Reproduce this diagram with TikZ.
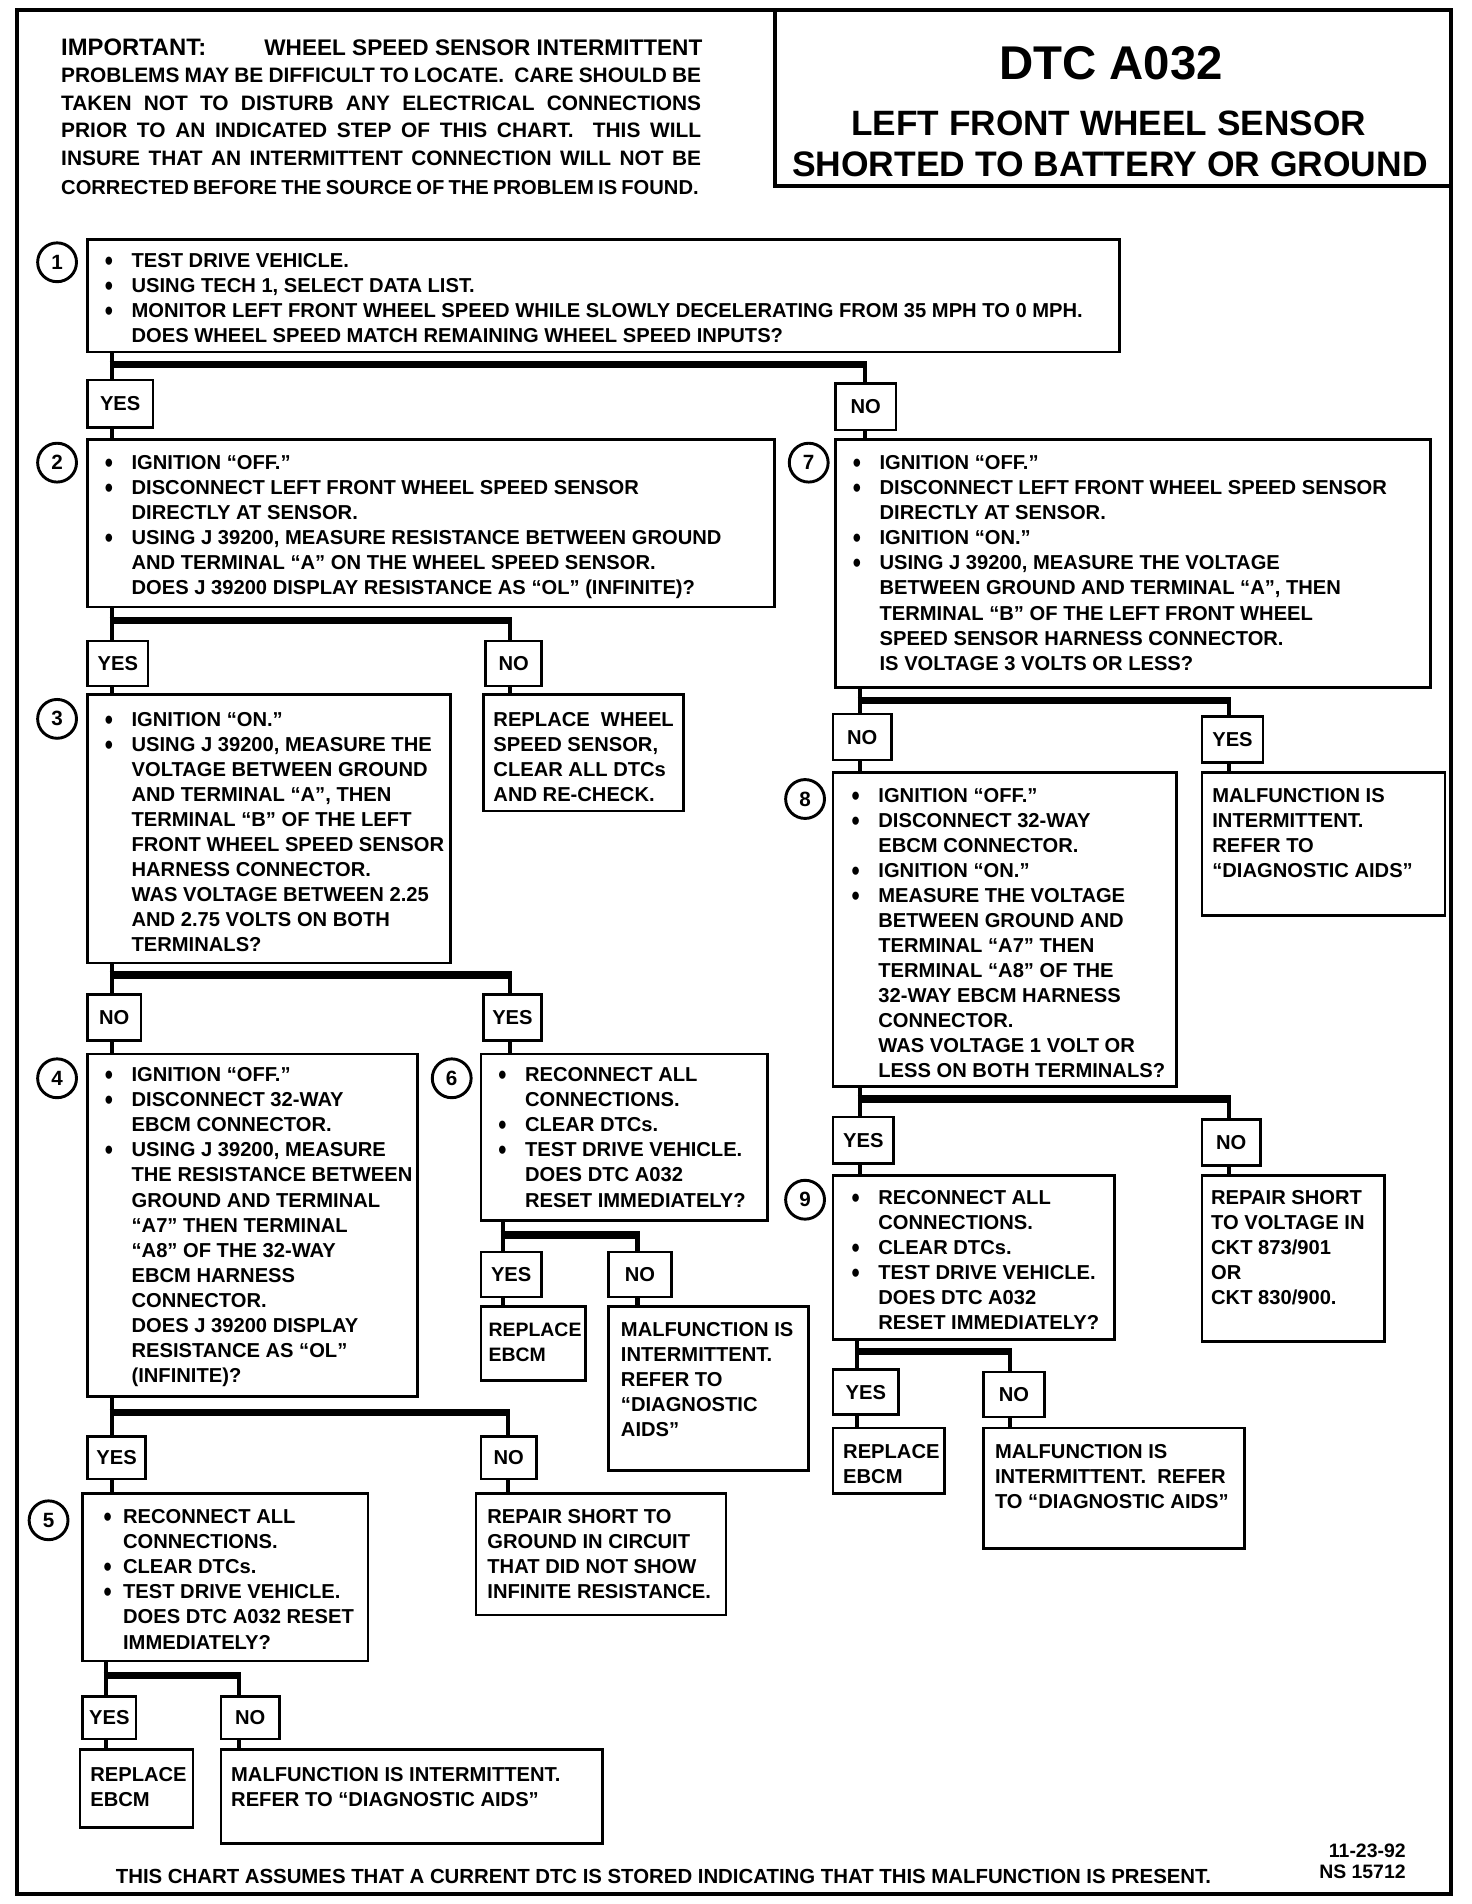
\documentclass[tikz,border=0pt]{standalone}
\usepackage{fontspec}
\setmainfont{Liberation Sans}
\usetikzlibrary{fit}
\newcommand\mybody{\fontsize{8.3}{10.3}\selectfont\bfseries}
\newcommand\mylbl{\fontsize{8.3}{10.3}\selectfont\bfseries}
\newcommand\mynum{\fontsize{8.5}{10}\selectfont\bfseries}
\newcommand\mydot{\smash{\raisebox{-1.2pt}{\scalebox{1.15}[1.4]{\textbullet}}}}
\newcommand\mybul{\makebox[11pt][l]{\mydot}}
\newcommand\myind{\hspace*{11pt}}
\newcommand\mybulc{\makebox[8pt][l]{\mydot}}
\newcommand\myindc{\hspace*{8pt}}
\tikzset{
 box/.style={draw, line width=1.1pt, inner sep=0pt, rectangle},
 lbltxt/.style={inner sep=0pt, font=\mylbl},
 txt/.style={anchor=north west, inner sep=0pt, align=left, font=\mybody},
 num/.style={draw, circle, line width=1.2pt, minimum size=16pt, inner sep=0pt, font=\mynum},
 conn/.style={line width=1.7pt},
 bar/.style={line width=3pt},
 imp/.style={anchor=base west, inner sep=0pt, font=\fontsize{8.6}{11}\selectfont\bfseries},
}
% label box: name, fit corners, text
\newcommand\lblnode[3]{\node[box, fit={#2}] (#1) {}; \node[lbltxt] (#1t) at (#1.center) {#3};}
\begin{document}
\begin{tikzpicture}[x=0.5pt,y=-0.5pt]
\fill[white] (0,0) rectangle (1212,1568);
\useasboundingbox (0,0) rectangle (1212,1568);
% outer frame and title
\node[box, line width=1.5pt, fit={(14,8) (1195,1560)}] (frame) {};
\node[box, line width=1.5pt, fit={(638,8) (1195,153)}] (title) {};
\node[font=\fontsize{19.5}{22}\selectfont\bfseries, inner sep=0pt] (t1) at (915,52) {DTC A032};
\node[font=\fontsize{14.5}{16}\selectfont\bfseries, inner sep=0pt] (t2) at (913,102) {LEFT FRONT WHEEL SENSOR};
\node[font=\fontsize{14.6}{16}\selectfont\bfseries, inner sep=0pt] (t3) at (914,135) {SHORTED TO BATTERY OR GROUND};
% important note
\node[imp] (imp1) at (50,46) {\makebox[264pt][s]{{\fontsize{9.8}{12}\selectfont IMPORTANT:}\hspace{10pt plus 1fil}{\fontsize{9.3}{11}\selectfont WHEEL SPEED SENSOR INTERMITTENT}}};
\node[imp] (imp2) at (50,68) {\makebox[263.5pt][s]{PROBLEMS MAY BE DIFFICULT TO LOCATE.\ \ CARE SHOULD BE}};
\node[imp] (imp3) at (50,91) {\makebox[263.5pt][s]{TAKEN NOT TO DISTURB ANY ELECTRICAL CONNECTIONS}};
\node[imp] (imp4) at (50,113) {\makebox[263.5pt][s]{PRIOR TO AN INDICATED STEP OF THIS CHART.\ \ THIS WILL}};
\node[imp] (imp5) at (50,136) {\makebox[263.5pt][s]{INSURE THAT AN INTERMITTENT CONNECTION WILL NOT BE}};
\node[imp, font=\fontsize{8.3}{11}\selectfont\bfseries] (imp6) at (50,160) {\makebox[262.5pt][s]{CORRECTED BEFORE THE SOURCE OF THE PROBLEM IS FOUND.}};

% ---------- boxes ----------
\node[box, fit={(72,197) (922,290)}] (b1) {};
\lblnode{y1}{(72,313) (126,352)}{YES}
\lblnode{n1}{(688,316) (738,354)}{NO}
\node[box, fit={(72,362) (638,500)}] (b2) {};
\node[box, fit={(688,362) (1178,566)}] (b7) {};
\lblnode{y2}{(72,528) (122,565)}{YES}
\lblnode{n2}{(400,528) (446,565)}{NO}
\node[box, fit={(72,572) (371,793)}] (b3) {};
\node[box, fit={(398,572) (563,668)}] (r2) {};
\lblnode{n3}{(72,819) (116,857)}{NO}
\lblnode{y3}{(398,819) (446,857)}{YES}
\node[box, fit={(72,868) (344,1150)}] (b4) {};
\node[box, fit={(396,868) (632,1005)}] (b6) {};
\lblnode{y6}{(396,1031) (446,1068)}{YES}
\lblnode{n6}{(501,1031) (553,1068)}{NO}
\node[box, fit={(396,1076) (482,1137)}] (r6y) {};
\node[box, fit={(501,1076) (666,1211)}] (r6n) {};
\lblnode{y4}{(72,1183) (120,1218)}{YES}
\lblnode{n4}{(396,1183) (442,1218)}{NO}
\node[box, fit={(68,1230) (303,1368)}] (b5) {};
\node[box, fit={(392,1230) (598,1330)}] (r4n) {};
\lblnode{y5}{(68,1397) (112,1432)}{YES}
\lblnode{n5}{(182,1397) (230,1432)}{NO}
\node[box, fit={(66,1441) (159,1505)}] (r5y) {};
\node[box, fit={(182,1441) (496,1518)}] (r5n) {};
\lblnode{n7}{(686,588) (734,626)}{NO}
\lblnode{y7}{(990,590) (1040,628)}{YES}
\node[box, fit={(686,636) (969,895)}] (b8) {};
\node[box, fit={(990,636) (1190,754)}] (r7y) {};
\lblnode{y8}{(686,920) (736,958)}{YES}
\lblnode{n8}{(990,922) (1038,960)}{NO}
\node[box, fit={(686,968) (918,1103)}] (b9) {};
\node[box, fit={(990,968) (1140,1105)}] (r8n) {};
\lblnode{y9}{(686,1128) (740,1165)}{YES}
\lblnode{n9}{(810,1130) (860,1167)}{NO}
\node[box, fit={(686,1176) (778,1230)}] (r9y) {};
\node[box, fit={(810,1176) (1025,1275)}] (r9n) {};

% ---------- step numbers ----------
\node[num] (c1) at (47,216) {1};
\node[num] (c2) at (47,381) {2};
\node[num] (c7) at (666,381) {7};
\node[num] (c3) at (47,592) {3};
\node[num] (c4) at (47,888) {4};
\node[num] (c6) at (372,888) {6};
\node[num] (c5) at (40,1252) {5};
\node[num] (c8) at (663,658) {8};
\node[num] (c9) at (663,988) {9};

% ---------- texts ----------
\node[txt] (x1) at (86,208) {\mybul TEST DRIVE VEHICLE.\\
\mybul USING TECH 1, SELECT DATA LIST.\\
\mybul MONITOR LEFT FRONT WHEEL SPEED WHILE SLOWLY DECELERATING FROM 35 MPH TO 0 MPH.\\
\myind DOES WHEEL SPEED MATCH REMAINING WHEEL SPEED INPUTS?};
\node[txt] (x2) at (86,375) {\mybul IGNITION “OFF.”\\
\mybul DISCONNECT LEFT FRONT WHEEL SPEED SENSOR\\
\myind DIRECTLY AT SENSOR.\\
\mybul USING J 39200, MEASURE RESISTANCE BETWEEN GROUND\\
\myind AND TERMINAL “A” ON THE WHEEL SPEED SENSOR.\\
\myind DOES J 39200 DISPLAY RESISTANCE AS “OL” (INFINITE)?};
\node[txt] (x7) at (702,375) {\mybul IGNITION “OFF.”\\
\mybul DISCONNECT LEFT FRONT WHEEL SPEED SENSOR\\
\myind DIRECTLY AT SENSOR.\\
\mybul IGNITION “ON.”\\
\mybul USING J 39200, MEASURE THE VOLTAGE\\
\myind BETWEEN GROUND AND TERMINAL “A”, THEN\\
\myind TERMINAL “B” OF THE LEFT FRONT WHEEL\\
\myind SPEED SENSOR HARNESS CONNECTOR.\\
\myind IS VOLTAGE 3 VOLTS OR LESS?};
\node[txt] (x3) at (86,586) {\mybul IGNITION “ON.”\\
\mybul USING J 39200, MEASURE THE\\
\myind VOLTAGE BETWEEN GROUND\\
\myind AND TERMINAL “A”, THEN\\
\myind TERMINAL “B” OF THE LEFT\\
\myind FRONT WHEEL SPEED SENSOR\\
\myind HARNESS CONNECTOR.\\
\myind WAS VOLTAGE BETWEEN 2.25\\
\myind AND 2.75 VOLTS ON BOTH\\
\myind TERMINALS?};
\node[txt] (xr2) at (406,586) {REPLACE\ \ WHEEL\\ SPEED SENSOR,\\ CLEAR ALL DTCs\\ AND RE-CHECK.};
\node[txt] (x4) at (86,879) {\mybul IGNITION “OFF.”\\
\mybul DISCONNECT 32-WAY\\
\myind EBCM CONNECTOR.\\
\mybul USING J 39200, MEASURE\\
\myind THE RESISTANCE BETWEEN\\
\myind GROUND AND TERMINAL\\
\myind “A7” THEN TERMINAL\\
\myind “A8” OF THE 32-WAY\\
\myind EBCM HARNESS\\
\myind CONNECTOR.\\
\myind DOES J 39200 DISPLAY\\
\myind RESISTANCE AS “OL”\\
\myind (INFINITE)?};
\node[txt] (x6) at (410,879) {\mybul RECONNECT ALL\\
\myind CONNECTIONS.\\
\mybul CLEAR DTCs.\\
\mybul TEST DRIVE VEHICLE.\\
\myind DOES DTC A032\\
\myind RESET IMMEDIATELY?};
\node[txt, font=\fontsize{8}{10.3}\selectfont\bfseries] (xr6y) at (402,1089) {REPLACE\\ EBCM};
\node[txt] (xr6n) at (511,1089) {MALFUNCTION IS\\ INTERMITTENT.\\ REFER TO\\ “DIAGNOSTIC\\ AIDS”};
\node[txt] (x5) at (85,1243) {\mybulc RECONNECT ALL\\
\myindc CONNECTIONS.\\
\mybulc CLEAR DTCs.\\
\mybulc TEST DRIVE VEHICLE.\\
\myindc DOES DTC A032 RESET\\
\myindc IMMEDIATELY?};
\node[txt] (xr4n) at (401,1243) {REPAIR SHORT TO\\ GROUND IN CIRCUIT\\ THAT DID NOT SHOW\\ INFINITE RESISTANCE.};
\node[txt] (xr5y) at (74,1455) {REPLACE\\ EBCM};
\node[txt] (xr5n) at (190,1455) {MALFUNCTION IS INTERMITTENT.\\ REFER TO “DIAGNOSTIC AIDS”};
\node[txt] (xr7y) at (998,649) {MALFUNCTION IS\\ INTERMITTENT.\\ REFER TO\\ “DIAGNOSTIC AIDS”};
\node[txt] (x8) at (701,649) {\mybul IGNITION “OFF.”\\
\mybul DISCONNECT 32-WAY\\
\myind EBCM CONNECTOR.\\
\mybul IGNITION “ON.”\\
\mybul MEASURE THE VOLTAGE\\
\myind BETWEEN GROUND AND\\
\myind TERMINAL “A7” THEN\\
\myind TERMINAL “A8” OF THE\\
\myind 32-WAY EBCM HARNESS\\
\myind CONNECTOR.\\
\myind WAS VOLTAGE 1 VOLT OR\\
\myind LESS ON BOTH TERMINALS?};
\node[txt] (x9) at (701,980) {\mybul RECONNECT ALL\\
\myind CONNECTIONS.\\
\mybul CLEAR DTCs.\\
\mybul TEST DRIVE VEHICLE.\\
\myind DOES DTC A032\\
\myind RESET IMMEDIATELY?};
\node[txt] (xr8n) at (997,980) {REPAIR SHORT\\ TO VOLTAGE IN\\ CKT 873/901\\ OR\\ CKT 830/900.};
\node[txt] (xr9y) at (694,1189) {REPLACE\\ EBCM};
\node[txt] (xr9n) at (819,1189) {MALFUNCTION IS\\ INTERMITTENT.\ \ REFER\\ TO “DIAGNOSTIC AIDS”};

% footer
\node[anchor=base west, inner sep=0pt, font=\fontsize{8.4}{10}\selectfont\bfseries] (foot) at (95,1551) {\makebox[451pt][s]{THIS CHART ASSUMES THAT A CURRENT DTC IS STORED INDICATING THAT THIS MALFUNCTION IS PRESENT.}};
\node[anchor=base east, inner sep=0pt, font=\fontsize{8}{10}\selectfont\bfseries] (date) at (1158,1530) {11-23-92};
\node[anchor=base east, inner sep=0pt, font=\fontsize{8}{10}\selectfont\bfseries] (ns) at (1158,1547) {NS 15712};

% ---------- connectors ----------
% step 1
\coordinate (j1) at (92,300); \coordinate (k1) at (712,300);
\draw[conn] (j1 |- b1.south) -- (j1 |- y1.north);
\draw[bar] ([xshift=-0.85pt]j1) -- ([xshift=0.85pt]k1);
\draw[conn] (k1) -- (k1 |- n1.north);
\draw[conn] (j1 |- y1.south) -- (j1 |- b2.north);
\draw[conn] (k1 |- n1.south) -- (k1 |- b7.north);
% step 2
\coordinate (j2) at (92,511); \coordinate (k2) at (420,511);
\draw[conn] (j2 |- b2.south) -- (j2 |- y2.north);
\draw[bar] ([xshift=-0.85pt]j2) -- ([xshift=0.85pt]k2);
\draw[conn] (k2) -- (k2 |- n2.north);
\draw[conn] (j2 |- y2.south) -- (j2 |- b3.north);
\draw[conn] (k2 |- n2.south) -- (k2 |- r2.north);
% step 3
\coordinate (j3) at (92,803); \coordinate (k3) at (420,803);
\draw[conn] (j3 |- b3.south) -- (j3 |- n3.north);
\draw[bar] ([xshift=-0.85pt]j3) -- ([xshift=0.85pt]k3);
\draw[conn] (k3) -- (k3 |- y3.north);
\draw[conn] (j3 |- n3.south) -- (j3 |- b4.north);
\draw[conn] (k3 |- y3.south) -- (k3 |- b6.north);
% step 6
\coordinate (j6) at (414,1017); \coordinate (k6) at (525,1017);
\draw[conn] (j6 |- b6.south) -- (j6 |- y6.north);
\draw[bar] ([xshift=-0.85pt]j6) -- ([xshift=0.85pt]k6);
\draw[conn] (k6) -- (k6 |- n6.north);
\draw[conn] (j6 |- y6.south) -- (j6 |- r6y.north);
\draw[conn] (k6 |- n6.south) -- (k6 |- r6n.north);
% step 4
\coordinate (j4) at (92,1163); \coordinate (k4) at (418,1163);
\draw[conn] (j4 |- b4.south) -- (j4 |- y4.north);
\draw[bar] ([xshift=-0.85pt]j4) -- ([xshift=0.85pt]k4);
\draw[conn] (k4) -- (k4 |- n4.north);
\draw[conn] (j4 |- y4.south) -- (j4 |- b5.north);
\draw[conn] (k4 |- n4.south) -- (k4 |- r4n.north);
% step 5
\coordinate (j5) at (87,1380); \coordinate (k5) at (197,1380);
\draw[conn] (j5 |- b5.south) -- (j5 |- y5.north);
\draw[bar] ([xshift=-0.85pt]j5) -- ([xshift=0.85pt]k5);
\draw[conn] (k5) -- (k5 |- n5.north);
\draw[conn] (j5 |- y5.south) -- (j5 |- r5y.north);
\draw[conn] (k5 |- n5.south) -- (k5 |- r5n.north);
% step 7
\coordinate (j7) at (708,577); \coordinate (k7) at (1012,577);
\draw[conn] (j7 |- b7.south) -- (j7 |- n7.north);
\draw[bar] ([xshift=-0.85pt]j7) -- ([xshift=0.85pt]k7);
\draw[conn] (k7) -- (k7 |- y7.north);
\draw[conn] (j7 |- n7.south) -- (j7 |- b8.north);
\draw[conn] (k7 |- y7.south) -- (k7 |- r7y.north);
% step 8
\coordinate (j8) at (708,905); \coordinate (k8) at (1012,905);
\draw[conn] (j8 |- b8.south) -- (j8 |- y8.north);
\draw[bar] ([xshift=-0.85pt]j8) -- ([xshift=0.85pt]k8);
\draw[conn] (k8) -- (k8 |- n8.north);
\draw[conn] (j8 |- y8.south) -- (j8 |- b9.north);
\draw[conn] (k8 |- n8.south) -- (k8 |- r8n.north);
% step 9
\coordinate (j9) at (706,1113); \coordinate (k9) at (832,1113);
\draw[conn] (j9 |- b9.south) -- (j9 |- y9.north);
\draw[bar] ([xshift=-0.85pt]j9) -- ([xshift=0.85pt]k9);
\draw[conn] (k9) -- (k9 |- n9.north);
\draw[conn] (j9 |- y9.south) -- (j9 |- r9y.north);
\draw[conn] (k9 |- n9.south) -- (k9 |- r9n.north);
\end{tikzpicture}
\end{document}
